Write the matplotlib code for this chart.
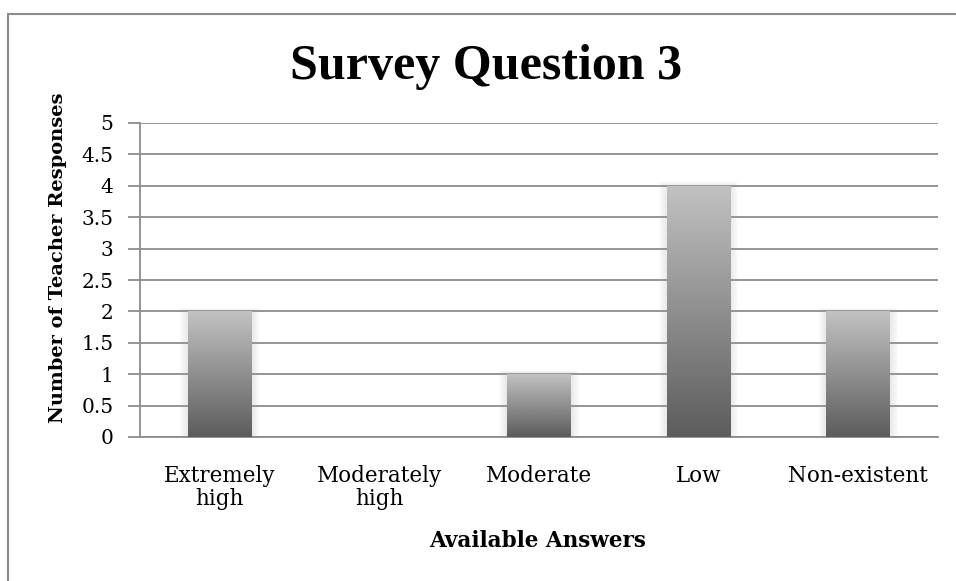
import numpy as np
import matplotlib
matplotlib.use("Agg")
import matplotlib.pyplot as plt
from matplotlib.patches import Rectangle

categories = ["Extremely\nhigh", "Moderately\nhigh", "Moderate", "Low", "Non-existent"]
responses = [2, 0, 1, 4, 2]
yticks = [0, 0.5, 1, 1.5, 2, 2.5, 3, 3.5, 4, 4.5, 5]
ytick_labels = ["0", "0.5", "1", "1.5", "2", "2.5", "3", "3.5", "4", "4.5", "5"]

serif = ["DejaVu Serif"]
title_font = ["Liberation Serif", "DejaVu Serif"]
W, H = 956, 581
fig = plt.figure(figsize=(W / 100, H / 100), dpi=100)
fig.patch.set_facecolor("white")

# chart-area frame (extends past right and bottom edges)
frame = Rectangle((8 / W, -0.1), 1.2, (H - 14) / H + 0.1, transform=fig.transFigure,
                  fill=False, edgecolor="#8a8a8a", linewidth=1.5)
fig.add_artist(frame)

ax = fig.add_axes([140 / W, (H - 437) / H, (938 - 140) / W, (437 - 123) / H])
x = np.arange(len(categories))

ax.set_yticks(yticks)
ax.set_yticklabels(ytick_labels, family=serif, fontsize=14.5)
ax.set_xticks(x)
ax.set_xticklabels(categories, family=serif, fontsize=15.5, linespacing=1.1)
ax.tick_params(axis="y", length=9, width=1.3, color="#8c8c8c", pad=10)
ax.tick_params(axis="x", length=0, pad=20)

for s in ["top", "right"]:
    ax.spines[s].set_visible(False)
for s in ["left", "bottom"]:
    ax.spines[s].set_color("#8c8c8c")
    ax.spines[s].set_linewidth(1.3)
ax.yaxis.grid(True, color="#8c8c8c", linewidth=1.3)
ax.set_axisbelow(True)

# bars with a vertical gray gradient and a soft shadow
bw = 0.4
grad = np.linspace(0, 1, 256).reshape(-1, 1)
cmap = matplotlib.colors.LinearSegmentedColormap.from_list("g", ["#5c5c5c", "#c2c2c2"])
bars = ax.bar(x, responses, width=bw, color="none", edgecolor="none", zorder=3)
for b, v in zip(bars, responses):
    if v <= 0:
        continue
    x0 = b.get_x()
    for k in range(4):
        pad = 0.012 * (k + 1)
        ax.add_patch(Rectangle((x0 - pad, 0), bw + 2 * pad, v + pad * 1.2,
                               facecolor="#9a9a9a", edgecolor="none", alpha=0.05, zorder=2.5))
    im = ax.imshow(grad, extent=(x0, x0 + bw, 0, v), origin="lower", cmap=cmap,
                   aspect="auto", zorder=3)
    im.set_clip_path(b)
ax.set_xlim(-0.5, len(categories) - 0.5)
ax.set_ylim(0, 5)

fig.text(486 / W, 1 - 79 / H, "Survey Question 3", family=title_font, fontsize=36,
         fontweight="bold", ha="center", va="baseline")
fig.text(58 / W, 1 - 258 / H, "Number of Teacher Responses", family=serif, fontsize=14,
         fontweight="bold", ha="center", va="center", rotation=90)
fig.text(538 / W, 1 - 547 / H, "Available Answers", family=serif, fontsize=15.5,
         fontweight="bold", ha="center", va="baseline")

fig.savefig("out.png", dpi=100)
